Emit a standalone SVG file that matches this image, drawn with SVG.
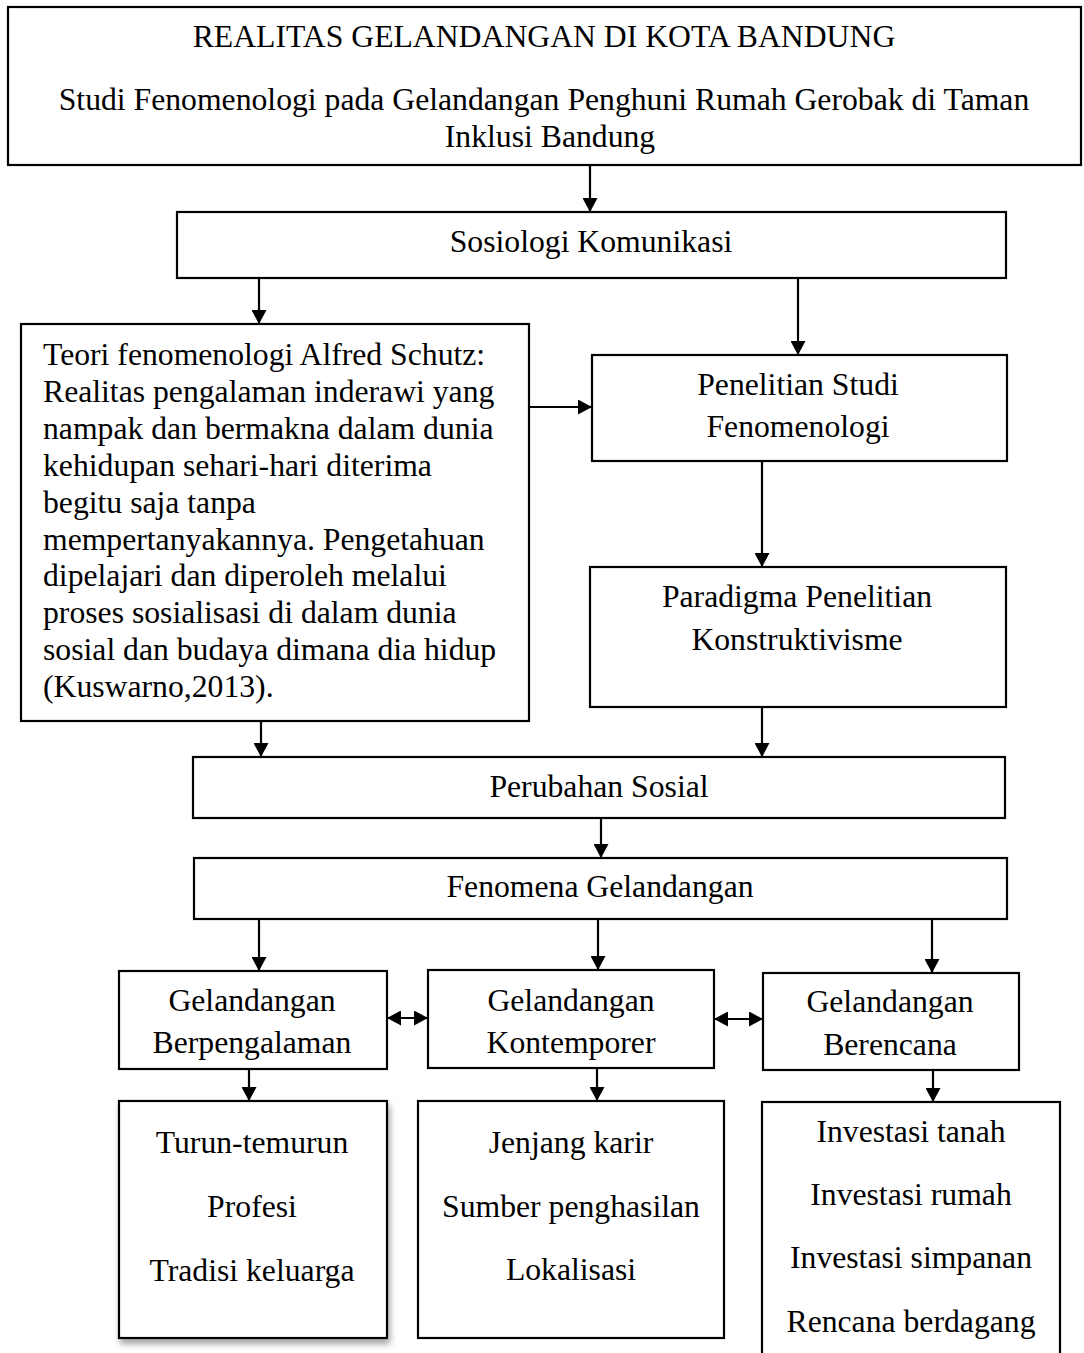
<svg xmlns="http://www.w3.org/2000/svg" width="1084" height="1353" viewBox="0 0 1084 1353">
<style>
.box{fill:#fff;stroke:#000;stroke-width:2.2}
.t{font-family:"Liberation Serif","Times New Roman",serif;font-size:31.7px;fill:#000}
.c{text-anchor:middle}
.ln{stroke:#000;stroke-width:2.2;fill:none}
</style>
<defs>
<marker id="ah" markerUnits="userSpaceOnUse" markerWidth="14" markerHeight="15" refX="14" refY="7.5" orient="auto-start-reverse" viewBox="0 0 14 15">
<path d="M0,0 L14,7.5 L0,15 z" fill="#000"/>
</marker>
<filter id="sh" x="-10%" y="-10%" width="125%" height="125%">
<feDropShadow dx="2" dy="5" stdDeviation="3" flood-color="#000" flood-opacity="0.35"/>
</filter>
</defs>
<rect width="1084" height="1353" fill="#fff"/>

<g id="connectors">
<line class="ln" x1="590" y1="165" x2="590" y2="212" marker-end="url(#ah)"/>
<line class="ln" x1="259" y1="278" x2="259" y2="324" marker-end="url(#ah)"/>
<line class="ln" x1="798" y1="278" x2="798" y2="355" marker-end="url(#ah)"/>
<line class="ln" x1="529" y1="407" x2="592" y2="407" marker-end="url(#ah)"/>
<line class="ln" x1="762" y1="461" x2="762" y2="567" marker-end="url(#ah)"/>
<line class="ln" x1="762" y1="707" x2="762" y2="757" marker-end="url(#ah)"/>
<line class="ln" x1="261" y1="721" x2="261" y2="757" marker-end="url(#ah)"/>
<line class="ln" x1="601" y1="818" x2="601" y2="858" marker-end="url(#ah)"/>
<line class="ln" x1="259" y1="919" x2="259" y2="971" marker-end="url(#ah)"/>
<line class="ln" x1="598" y1="919" x2="598" y2="970" marker-end="url(#ah)"/>
<line class="ln" x1="932" y1="919" x2="932" y2="973" marker-end="url(#ah)"/>
<line class="ln" x1="249" y1="1069" x2="249" y2="1101" marker-end="url(#ah)"/>
<line class="ln" x1="597" y1="1068" x2="597" y2="1101" marker-end="url(#ah)"/>
<line class="ln" x1="933" y1="1070" x2="933" y2="1102" marker-end="url(#ah)"/>
<line class="ln" x1="387" y1="1018" x2="428" y2="1018" marker-start="url(#ah)" marker-end="url(#ah)"/>
<line class="ln" x1="714" y1="1019" x2="763" y2="1019" marker-start="url(#ah)" marker-end="url(#ah)"/>
</g>

<g id="title">
<rect class="box" x="8" y="7" width="1073" height="158"/>
<text class="t c" x="544" y="47">REALITAS GELANDANGAN DI KOTA BANDUNG</text>
<text class="t c" x="544" y="110">Studi Fenomenologi pada Gelandangan Penghuni Rumah Gerobak di Taman</text>
<text class="t c" x="550" y="147">Inklusi Bandung</text>
</g>

<g id="sosiologi">
<rect class="box" x="177" y="212" width="829" height="66"/>
<text class="t c" x="591" y="252">Sosiologi Komunikasi</text>
</g>

<g id="teori">
<rect class="box" x="21" y="324" width="508" height="397"/>
<text class="t" x="43" y="365">Teori fenomenologi Alfred Schutz:</text>
<text class="t" x="43" y="401.9">Realitas pengalaman inderawi yang</text>
<text class="t" x="43" y="438.8">nampak dan bermakna dalam dunia</text>
<text class="t" x="43" y="475.7">kehidupan sehari-hari diterima</text>
<text class="t" x="43" y="512.6">begitu saja tanpa</text>
<text class="t" x="43" y="549.5">mempertanyakannya. Pengetahuan</text>
<text class="t" x="43" y="586.4">dipelajari dan diperoleh melalui</text>
<text class="t" x="43" y="623.3">proses sosialisasi di dalam dunia</text>
<text class="t" x="43" y="660.2">sosial dan budaya dimana dia hidup</text>
<text class="t" x="43" y="697.1">(Kuswarno,2013).</text>
</g>

<g id="penelitian">
<rect class="box" x="592" y="355" width="415" height="106"/>
<text class="t c" x="798" y="395">Penelitian Studi</text>
<text class="t c" x="798" y="437">Fenomenologi</text>
</g>

<g id="paradigma">
<rect class="box" x="590" y="567" width="416" height="140"/>
<text class="t c" x="797" y="607">Paradigma Penelitian</text>
<text class="t c" x="797" y="650">Konstruktivisme</text>
</g>

<g id="perubahan">
<rect class="box" x="193" y="757" width="812" height="61"/>
<text class="t c" x="599" y="797">Perubahan Sosial</text>
</g>

<g id="fenomena">
<rect class="box" x="194" y="858" width="813" height="61"/>
<text class="t c" x="600" y="897">Fenomena Gelandangan</text>
</g>

<g id="berpengalaman">
<rect class="box" x="119" y="971" width="268" height="98"/>
<text class="t c" x="252" y="1011">Gelandangan</text>
<text class="t c" x="252" y="1053">Berpengalaman</text>
</g>

<g id="kontemporer">
<rect class="box" x="428" y="970" width="286" height="98"/>
<text class="t c" x="571" y="1011">Gelandangan</text>
<text class="t c" x="571" y="1053">Kontemporer</text>
</g>

<g id="berencana">
<rect class="box" x="763" y="973" width="256" height="97"/>
<text class="t c" x="890" y="1012">Gelandangan</text>
<text class="t c" x="890" y="1055">Berencana</text>
</g>

<g id="turun">
<rect class="box" x="119" y="1101" width="268" height="237" filter="url(#sh)"/>
<text class="t c" x="252" y="1153">Turun-temurun</text>
<text class="t c" x="252" y="1217">Profesi</text>
<text class="t c" x="252" y="1281">Tradisi keluarga</text>
</g>

<g id="jenjang">
<rect class="box" x="418" y="1101" width="306" height="237"/>
<text class="t c" x="571" y="1153">Jenjang karir</text>
<text class="t c" x="571" y="1217">Sumber penghasilan</text>
<text class="t c" x="571" y="1280">Lokalisasi</text>
</g>

<g id="investasi">
<rect class="box" x="762" y="1102" width="298" height="270"/>
<text class="t c" x="911" y="1142">Investasi tanah</text>
<text class="t c" x="911" y="1205">Investasi rumah</text>
<text class="t c" x="911" y="1268">Investasi simpanan</text>
<text class="t c" x="911" y="1332">Rencana berdagang</text>
</g>
</svg>
